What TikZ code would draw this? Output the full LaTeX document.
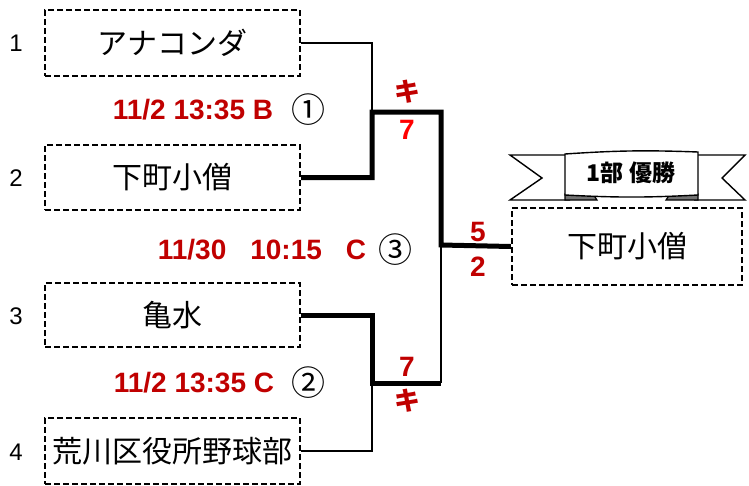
\documentclass[tikz,border=0pt]{standalone}
\usepackage{fontspec}
\setmainfont{Liberation Sans}
\newfontfamily\jp{Noto Sans CJK JP}
\definecolor{dred}{HTML}{C00000}

\begin{document}
\begin{tikzpicture}[x=1pt,y=-1pt,
    team/.style={draw,dash pattern=on 6pt off 3pt,line width=2.3pt,minimum width=255pt,minimum height=66pt,inner sep=0pt,font=\jp\fontsize{30}{30}\selectfont},
    seed/.style={font=\fontsize{24}{24}\selectfont},
    game/.style={text=dred,font=\bfseries\fontsize{28}{28}\selectfont},
    circnum/.style={font=\jp\fontsize{34}{34}\selectfont},
    lose/.style={line width=2.6pt},
    win/.style={line width=5pt}]
      \useasboundingbox (0,0) rectangle (749,485);
      \node[team] (t1) at (172.5,43) {アナコンダ};
      \node[team,minimum height=65pt] (t2) at (172.5,177.5) {下町小僧};
      \node[team,minimum height=64pt] (t3) at (172.5,315) {亀水};
      \node[team] (t4) at (172.5,451) {荒川区役所野球部};
      \node[team,minimum width=230pt,minimum height=77pt] (champ) at (627,246.5) {下町小僧};
      \node[seed] (s1) at (16,43) {1};
      \node[seed] (s2) at (16,178) {2};
      \node[seed] (s3) at (16,316) {3};
      \node[seed] (s4) at (16,452) {4};
      \node[game] (g1) at (193,110) {11/2 13:35 B};
      \node[circnum] (c1) at (308,110) {①};
      \node[game] (g3) at (262,250) {11/30\hspace{24pt}10:15\hspace{24pt}C};
      \node[circnum] (c3) at (395,250) {③};
      \node[game] (g2) at (194,383) {11/2 13:35 C};
      \node[circnum] (c2) at (308,383) {②};
      \coordinate (m1) at (372,112);
      \coordinate (m2) at (372,383);
      \coordinate (k2) at (441,383);
      \coordinate (j) at (441,245);
      \draw[lose] (t1.east) -| (m1);
      \draw[win] (t2.east) -| (m1) -| (j) -- (champ.west);
      \draw[win] (t3.east) -| (m2) -- (k2);
      \draw[lose] (t4.east) -| (m2);
      \draw[lose] (k2) -- (j);
      \node[game,font=\jp\bfseries\fontsize{26}{26}\selectfont] (r1a) at (407,92) {キ};
      \node[game,text=red] (r1b) at (407,130) {7};
      \node[game] (r2a) at (407,367) {7};
      \node[game,font=\jp\bfseries\fontsize{26}{26}\selectfont] (r2b) at (407,401) {キ};
      \node[game] (f1) at (478,232) {5};
      \node[game] (f2) at (478,267) {2};
      \draw[line width=1.4pt,fill=white] (570,155) -- (510,155) -- (542,178) -- (510,200) -- (570,200);
      \draw[line width=1.4pt,fill=white] (694,155) -- (745,155) -- (722,178) -- (745,200) -- (694,200);
      \draw[line width=1.2pt,fill=black!55] (565,194) -- (565,200) -- (597,200) -- (593,194) -- cycle;
      \draw[line width=1.2pt,fill=black!55] (698,194) -- (698,200) -- (666,200) -- (670,194) -- cycle;
      \draw[line width=1.4pt,fill=white] (565,195) -- (565,154) to[bend left=3] (698,152) -- (698,195) to[bend left=3] cycle;
      \node[font=\jp\bfseries\fontsize{23}{23}\selectfont] (rib) at (631,173) {1部 優勝};
    \end{tikzpicture}
\end{document}
